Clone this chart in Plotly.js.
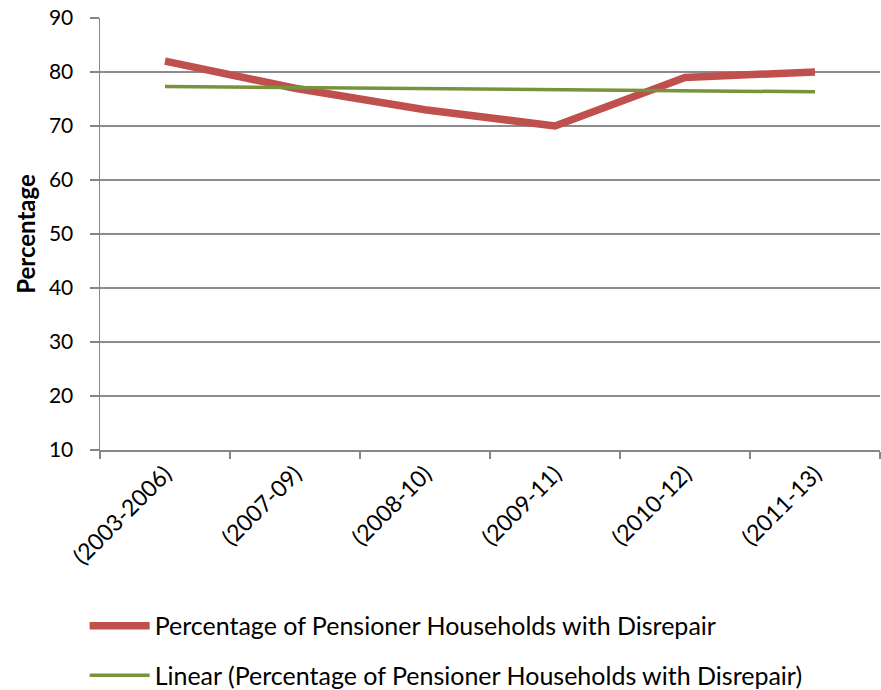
<!DOCTYPE html>
<html>
<head>
<meta charset="utf-8">
<script src="https://cdn.plot.ly/plotly-3.0.1.min.js"></script>
<style>html,body{margin:0;padding:0;background:#fff;}#chart{width:881px;height:690px;}</style>
</head>
<body>
<div id="chart"></div>
<script>
const categories = ["(2003-2006)", "(2007-09)", "(2008-10)", "(2009-11)", "(2010-12)", "(2011-13)"];
const disrepairPct = [82, 77, 73, 70, 79, 80];
const seriesName = "Percentage of Pensioner Households with Disrepair";
const trendName = "Linear (Percentage of Pensioner Households with Disrepair)";
const yTicks = [10, 20, 30, 40, 50, 60, 70, 80, 90];

// Linear trendline (least squares) derived from the series, as Excel does
const n = disrepairPct.length;
const xs = disrepairPct.map((_, i) => i + 1);
const mx = xs.reduce((a, b) => a + b, 0) / n;
const my = disrepairPct.reduce((a, b) => a + b, 0) / n;
let sxy = 0, sxx = 0;
xs.forEach((x, i) => { sxy += (x - mx) * (disrepairPct[i] - my); sxx += (x - mx) * (x - mx); });
const slope = sxy / sxx;
const trend = xs.map(x => my + slope * (x - mx));

const font = "Lato, 'Open Sans', sans-serif";

const data = [
  {
    x: categories, y: disrepairPct, type: "scatter", mode: "lines", name: seriesName,
    legendgroup: "a",
    line: {color: "#C0504D", width: 7.5}
  },
  {
    x: categories, y: trend, type: "scatter", mode: "lines", name: trendName,
    legendgroup: "b",
    line: {color: "#77933C", width: 3.5}
  }
];

const layout = {
  width: 881, height: 690,
  margin: {l: 100, r: 1, t: 18, b: 240, autoexpand: false},
  paper_bgcolor: "#fff", plot_bgcolor: "#fff",
  font: {family: font, size: 24, color: "#000"},
  showlegend: true,
  legend: {
    orientation: "v", x: -0.0197, xanchor: "left", y: -0.354, yanchor: "top",
    font: {family: font, size: 25, color: "#000"},
    tracegroupgap: 14, itemwidth: 60, bgcolor: "rgba(0,0,0,0)"
  },
  xaxis: {
    type: "category", tickangle: -45, tickson: "boundaries",
    ticks: "outside", ticklen: 7, tickcolor: "#868686", tickwidth: 1.5,
    showline: true, linecolor: "#868686", linewidth: 1.5,
    showgrid: false, zeroline: false,
    tickfont: {family: font, size: 23, color: "#000"},
    range: [-0.5, 5.5]
  },
  yaxis: {
    range: [10, 90], tickvals: yTicks, ticktext: yTicks.map(String),
    ticks: "outside", ticklen: 9, tickcolor: "#868686", tickwidth: 1.5,
    ticklabelstandoff: 12,
    showline: true, linecolor: "#868686", linewidth: 1.5,
    showgrid: true, gridcolor: "#8C8C8C", gridwidth: 1.5,
    zeroline: false,
    tickfont: {family: font, size: 21, color: "#000"},
    title: {text: "<b>Percentage</b>", font: {family: font, size: 24, color: "#000"}, standoff: 6}
  }
};

Plotly.newPlot("chart", data, layout, {displayModeBar: false, staticPlot: true});
</script>
</body>
</html>
